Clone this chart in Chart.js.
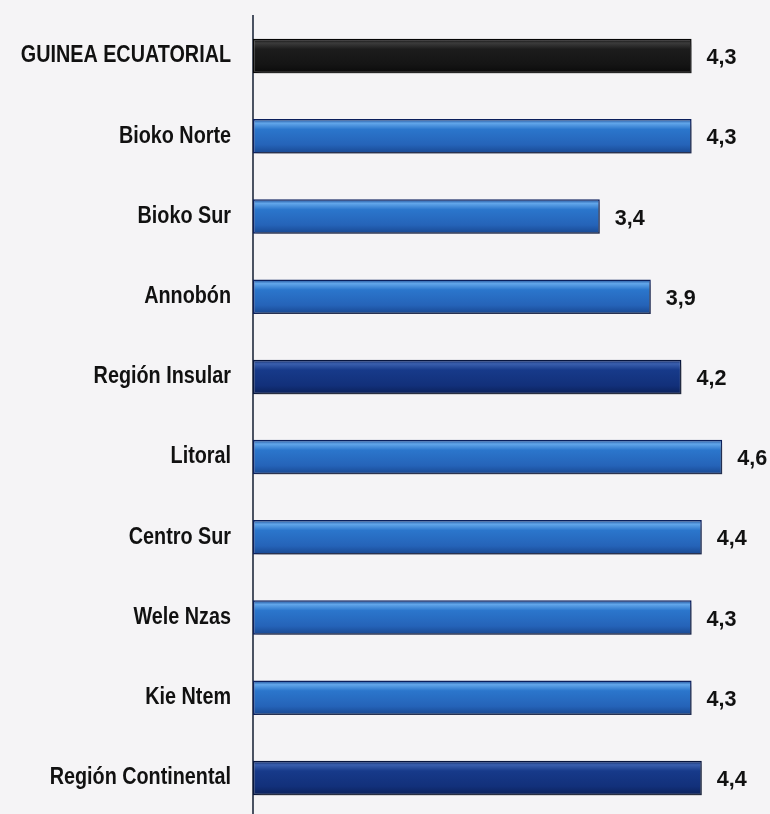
<!DOCTYPE html>
<html>
<head>
<meta charset="utf-8">
<script src="https://cdn.jsdelivr.net/npm/chart.js@4/dist/chart.umd.min.js"></script>
<style>
  html, body { margin: 0; padding: 0; background: #f5f4f6; overflow: hidden; }
  canvas { display: block; }
</style>
</head>
<body>
<canvas id="chart" width="770" height="818"></canvas>
<script>
// horizontal bars - average per region
const categories = ['GUINEA ECUATORIAL', 'Bioko Norte', 'Bioko Sur', 'Annobón', 'Región Insular',
  'Litoral', 'Centro Sur', 'Wele Nzas', 'Kie Ntem', 'Región Continental'];
const values = [4.3, 4.3, 3.4, 3.9, 4.2, 4.6, 4.4, 4.3, 4.3, 4.4];
const kinds = ['total', 'prov', 'prov', 'prov', 'region', 'prov', 'prov', 'prov', 'prov', 'region'];

const FONT = "'Liberation Sans', Arial, sans-serif";
const BAR_PCT = 0.43;

const palette = {
  total:  { stops: ['#3b3b3b', '#1c1c1c', '#141414', '#0a0a0a'], border: '#050505' },
  prov:   { stops: ['#62a6ea', '#2b76cc', '#2563b8', '#184790'], border: '#0b1f5c' },
  region: { stops: ['#3a5fae', '#173a8a', '#12307a', '#0b215a'], border: '#07153d' }
};

function barFill(c) {
  const p = palette[kinds[c.dataIndex]] || palette.prov;
  if (c.type !== 'data') return p.stops[2];
  const ys = c.chart.scales.y;
  if (!ys || !ys.height) return p.stops[2];
  const y = ys.getPixelForValue(c.dataIndex);
  const h = ys.height / categories.length * BAR_PCT;
  const g = c.chart.ctx.createLinearGradient(0, y - h / 2, 0, y + h / 2);
  g.addColorStop(0, p.stops[3]);
  g.addColorStop(0.12, p.stops[0]);
  g.addColorStop(0.3, p.stops[1]);
  g.addColorStop(0.75, p.stops[2]);
  g.addColorStop(1, p.stops[3]);
  return g;
}

// condensed text, like the narrow bold face of the original
function narrowText(ctx, text, x, y, size, sx, align) {
  ctx.save();
  ctx.font = 'bold ' + size + 'px ' + FONT;
  ctx.textAlign = align;
  ctx.textBaseline = 'middle';
  ctx.translate(x, y);
  ctx.scale(sx, 1);
  ctx.fillText(text, 0, 0);
  ctx.restore();
}

const shadowAndLabels = {
  id: 'shadowAndLabels',
  beforeDatasetsDraw(chart) {
    const ctx = chart.ctx;
    ctx.save();
    ctx.shadowColor = 'rgba(70,70,70,0.55)';
    ctx.shadowBlur = 5;
    ctx.shadowOffsetX = 3;
    ctx.shadowOffsetY = 5;
  },
  afterDatasetsDraw(chart) {
    const ctx = chart.ctx;
    ctx.restore();
    ctx.fillStyle = '#111';
    const ys = chart.scales.y;
    categories.forEach((lab, i) => {
      narrowText(ctx, lab, ys.right - 22, ys.getPixelForValue(i), 23, 0.86, 'right');
    });
    chart.getDatasetMeta(0).data.forEach((bar, i) => {
      narrowText(ctx, String(values[i]).replace('.', ','), bar.x + 15, bar.y + 2, 22, 0.98, 'left');
    });
  }
};

new Chart(document.getElementById('chart'), {
  type: 'bar',
  data: {
    labels: categories,
    datasets: [{
      data: values,
      backgroundColor: barFill,
      borderColor: c => (palette[kinds[c.dataIndex]] || palette.prov).border,
      borderWidth: 1.5,
      borderSkipped: false,
      categoryPercentage: 1,
      barPercentage: BAR_PCT
    }]
  },
  options: {
    indexAxis: 'y',
    responsive: false,
    animation: false,
    layout: { padding: { top: 16, right: 7, bottom: 0, left: 0 } },
    plugins: { legend: { display: false }, tooltip: { enabled: false } },
    scales: {
      x: { display: false, min: 0, max: 5 },
      y: {
        afterFit(scale) { scale.width = 253; scale.paddingTop = 0; scale.paddingBottom = 0; },
        grid: { display: false, drawTicks: false },
        border: { display: true, color: '#4a5262', width: 2 },
        ticks: { display: false }
      }
    }
  },
  plugins: [shadowAndLabels]
});
</script>
</body>
</html>
